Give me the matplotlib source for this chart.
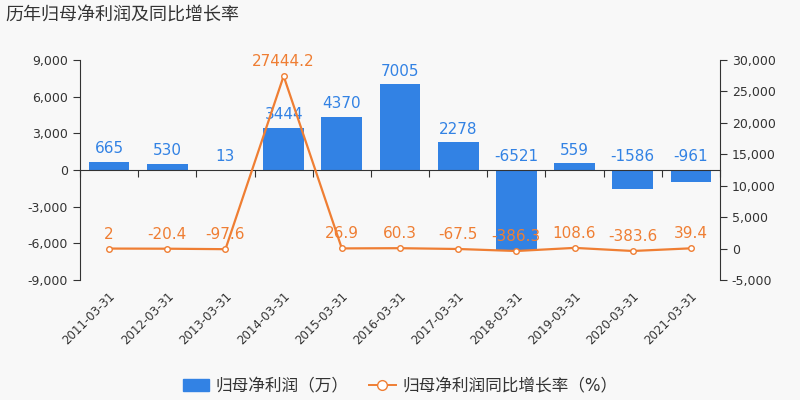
import matplotlib
matplotlib.use("Agg")
import matplotlib.pyplot as plt
import matplotlib.patches as mpatches
import matplotlib.lines as mlines
import matplotlib.transforms as mtrans
import numpy as np

plt.rcParams['font.family'] = ['DejaVu Sans', 'Noto Sans CJK SC']

dates = ["2011-03-31", "2012-03-31", "2013-03-31", "2014-03-31", "2015-03-31",
         "2016-03-31", "2017-03-31", "2018-03-31", "2019-03-31", "2020-03-31", "2021-03-31"]
profit = [665, 530, 13, 3444, 4370, 7005, 2278, -6521, 559, -1586, -961]
growth = [2, -20.4, -97.6, 27444.2, 26.9, 60.3, -67.5, -386.3, 108.6, -383.6, 39.4]
profit_labels = ["665", "530", "13", "3444", "4370", "7005", "2278", "-6521", "559", "-1586", "-961"]
growth_labels = ["2", "-20.4", "-97.6", "27444.2", "26.9", "60.3", "-67.5", "-386.3", "108.6", "-383.6", "39.4"]
left_ticks = [-9000, -6000, -3000, 0, 3000, 6000, 9000]
right_ticks = [-5000, 0, 5000, 10000, 15000, 20000, 25000, 30000]
title = "历年归母净利润及同比增长率"

BLUE = "#3282E4"
ORANGE = "#EF7E33"
BG = "#F8F8F8"
TXT = "#333333"

fig = plt.figure(figsize=(8, 4), dpi=100, facecolor=BG)
ax = fig.add_axes([0.1, 0.3, 0.8, 0.55])
ax.set_facecolor(BG)
ax2 = ax.twinx()
ax2.set_facecolor("none")

x = np.arange(len(dates))
ax.bar(x, profit, width=0.7, color=BLUE, zorder=2)
ax.set_xlim(-0.5, len(dates) - 0.5)
ax.set_ylim(-9000, 9000)
ax.set_yticks(left_ticks)
ax.set_yticklabels([f"{v:,}" for v in left_ticks])

for s in ["top", "right"]:
    ax.spines[s].set_visible(False)
ax.spines["left"].set_color(TXT)
ax.spines["bottom"].set_position(("data", 0))
ax.spines["bottom"].set_color(TXT)
ax.set_xticks(np.arange(-0.5, len(dates), 1))
ax.tick_params(axis="x", labelbottom=False, length=5, color=TXT, direction="out")
ax.tick_params(axis="y", labelsize=9, colors=TXT, length=5)

for i, (v, lab) in enumerate(zip(profit, profit_labels)):
    ax.annotate(lab, (i, max(v, 0)), xytext=(0, 4), textcoords="offset points",
                ha="center", va="bottom", color=BLUE, fontsize=11, zorder=3)

# category labels
trans = mtrans.blended_transform_factory(ax.transData, ax.transAxes) + \
    mtrans.ScaledTranslation(3 / 72, -10 / 72, fig.dpi_scale_trans)
for i, d in enumerate(dates):
    ax.text(i, 0, d, transform=trans, rotation=45, ha="right", va="center",
            rotation_mode="anchor", fontsize=8.5, color=TXT)

ax2.plot(x, growth, color=ORANGE, lw=1.6, marker="o", ms=4, mfc="white",
         mec=ORANGE, mew=1, zorder=4)
ax2.set_ylim(-5000, 30000)
ax2.set_yticks(right_ticks)
ax2.set_yticklabels([f"{v:,}" for v in right_ticks])
for s in ["top", "left", "bottom"]:
    ax2.spines[s].set_visible(False)
ax2.spines["right"].set_color(TXT)
ax2.tick_params(axis="y", labelsize=9, colors=TXT, length=5)
for i, (v, lab) in enumerate(zip(growth, growth_labels)):
    ax2.annotate(lab, (i, v), xytext=(0, 5), textcoords="offset points",
                 ha="center", va="bottom", color=ORANGE, fontsize=11, zorder=5)

fig.text(5 / 800, 1 - 20 / 400, title, fontsize=13, color=TXT,
         ha="left", va="baseline", fontweight="medium",
         family=["Noto Sans CJK SC"])

h1 = mpatches.Patch(color=BLUE, label="归母净利润（万）")
h2 = mlines.Line2D([], [], color=ORANGE, lw=1.4, marker="o", ms=7, mfc="white",
                   mec=ORANGE, label="归母净利润同比增长率（%）")
fig.legend(handles=[h1, h2], loc="center", bbox_to_anchor=(0.5, 0.035), ncol=2,
           frameon=False, fontsize=12, handlelength=1.6, columnspacing=1.2,
           handletextpad=0.4, labelcolor=TXT)

fig.savefig("out.png", dpi=100, facecolor=BG)
